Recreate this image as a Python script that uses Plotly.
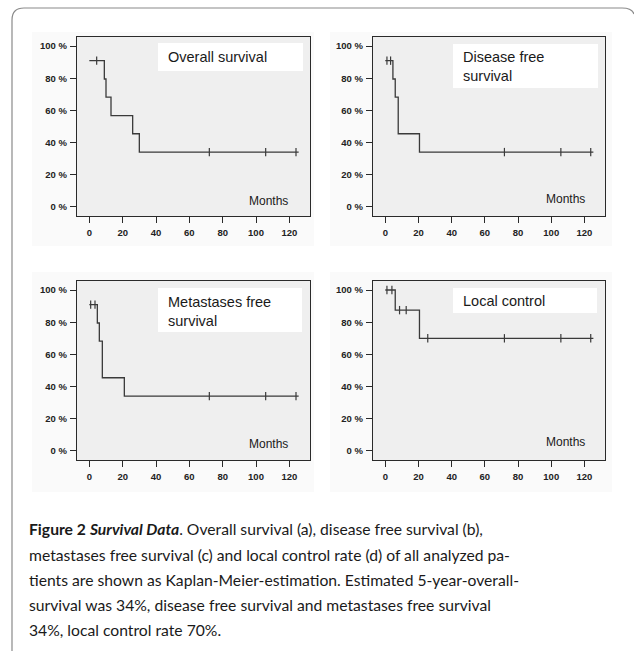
import plotly.graph_objects as go

W, H = 634, 651

# ---------------- data ----------------
months_ticks = [0, 20, 40, 60, 80, 100, 120]
pct_ticks = [0, 20, 40, 60, 80, 100]
pct_labels = ["0 %", "20 %", "40 %", "60 %", "80 %", "100 %"]

# (a) overall survival
os_time = [0, 9, 10, 13, 26, 30, 125.6]
os_surv = [90.9, 79.5, 68.2, 56.8, 45.5, 34.1, 34.1]
os_cens_time = [4.4, 72, 105.8, 124]
os_cens_surv = [90.9, 34.1, 34.1, 34.1]

# (b) disease free survival
dfs_time = [0, 4.6, 6, 7.8, 20.6, 125.4]
dfs_surv = [90.9, 79.5, 68.2, 45.5, 34.1, 34.1]
dfs_cens_time = [1, 3.2, 71.8, 105.8, 123.8]
dfs_cens_surv = [90.9, 90.9, 34.1, 34.1, 34.1]

# (c) metastases free survival
mfs_time = [0, 4.8, 6, 7.8, 21, 125.6]
mfs_surv = [90.9, 79.5, 68.2, 45.5, 34.1, 34.1]
mfs_cens_time = [0.8, 3.4, 72, 105.8, 124]
mfs_cens_surv = [90.9, 90.9, 34.1, 34.1, 34.1]

# (d) local control
lc_time = [0, 6, 20.6, 125.4]
lc_surv = [100, 87.5, 70, 70]
lc_cens_time = [1, 4, 8.6, 12.6, 25.6, 71.8, 105.8, 123.8]
lc_cens_surv = [100, 100, 87.5, 87.5, 70, 70, 70, 70]

panel_titles = ["Overall survival", "Disease free<br>survival",
                "Metastases free<br>survival", "Local control"]

caption_lines = [
    "<b>Figure 2</b> <b><i>Survival Data</i></b>. Overall survival (a), disease free survival (b),",
    "metastases free survival (c) and local control rate (d) of all analyzed pa-",
    "tients are shown as Kaplan-Meier-estimation. Estimated 5-year-overall-",
    "survival was 34%, disease free survival and metastases free survival",
    "34%, local control rate 70%.",
]

# ---------------- layout helpers ----------------
def px(x):
    return x / W

def py(y):
    return 1 - y / H

# plot boxes in pixels: (left, right, top, bottom)
boxes = [(77, 310, 37, 216), (373, 605, 37, 216),
         (77, 310, 281, 460), (373, 605, 281, 460)]
# white label boxes (left, right, top, bottom), text x, text y centre
label_boxes = [(158, 303, 43, 71, 166, 57),
               (453, 598, 44, 88, 461, 66.5),
               (158, 302, 288, 332, 165.5, 311),
               (453, 597, 288, 313, 461, 301)]
months_pos = [(290, 200.5), (587, 199.5), (289.5, 443.5), (586.5, 442)]

series = [
    (os_time, os_surv, os_cens_time, os_cens_surv),
    (dfs_time, dfs_surv, dfs_cens_time, dfs_cens_surv),
    (mfs_time, mfs_surv, mfs_cens_time, mfs_cens_surv),
    (lc_time, lc_surv, lc_cens_time, lc_cens_surv),
]

LINE = "#3a3a3a"
fig = go.Figure()
shapes = []
annotations = []

# faint panel backgrounds (scanned-figure look)
for (l, r, t, b) in [(32, 314, 32, 246), (330, 612, 32, 246),
                     (32, 314, 272, 492), (330, 612, 272, 492)]:
    shapes.append(dict(type="rect", xref="paper", yref="paper", layer="below",
                       x0=px(l), x1=px(r), y0=py(b), y1=py(t),
                       fillcolor="#fafafa", line=dict(width=0)))

for i, ((t, s, ct, cs), (l, r, tp, bt)) in enumerate(zip(series, boxes)):
    n = "" if i == 0 else str(i + 1)
    xa, ya = "x" + n, "y" + n
    fig.add_trace(go.Scatter(x=t, y=s, mode="lines", line_shape="hv",
                             line=dict(color=LINE, width=1.3),
                             xaxis=xa, yaxis=ya, showlegend=False,
                             hoverinfo="skip"))
    fig.add_trace(go.Scatter(x=ct, y=cs, mode="markers",
                             marker=dict(symbol="line-ns", size=6,
                                         line=dict(color=LINE, width=1.2)),
                             xaxis=xa, yaxis=ya, showlegend=False,
                             hoverinfo="skip"))
    axcommon = dict(showline=True, linecolor="#2a2a2a", linewidth=1.3,
                    mirror=True, ticks="outside", ticklen=6, tickwidth=1.2,
                    tickcolor="#2a2a2a", showgrid=False, zeroline=False,
                    tickfont=dict(family="Liberation Sans, Arial", size=9.5,
                                  color="#222", weight="bold"))
    fig.update_layout(**{
        ("xaxis" + n): dict(domain=[px(l), px(r)], range=[-7.4, 132.4],
                            anchor=ya, tickvals=months_ticks, ticklabelstandoff=1,
                            **axcommon),
        ("yaxis" + n): dict(domain=[py(bt), py(tp)], range=[-5.6, 105.6],
                            anchor=xa, tickvals=pct_ticks, ticktext=pct_labels,
                            ticklabelstandoff=1, **axcommon),
    })
    # plot area background
    shapes.append(dict(type="rect", xref="paper", yref="paper", layer="below",
                       x0=px(l), x1=px(r), y0=py(bt), y1=py(tp),
                       fillcolor="#efefef", line=dict(width=0)))
    bl, br, btp, bbt, tx, ty = label_boxes[i]
    shapes.append(dict(type="rect", xref="paper", yref="paper", layer="above",
                       x0=px(bl), x1=px(br), y0=py(bbt), y1=py(btp),
                       fillcolor="white", line=dict(width=0)))
    annotations.append(dict(xref="paper", yref="paper", x=px(tx), y=py(ty),
                            text=panel_titles[i], showarrow=False,
                            xanchor="left", yanchor="middle", align="left",
                            font=dict(family="Liberation Sans, Arial",
                                      size=14.5, color="#1a1a1a")))
    mx, my = months_pos[i]
    annotations.append(dict(xref="paper", yref="paper", x=px(mx), y=py(my),
                            text="Months", showarrow=False,
                            xanchor="right", yanchor="middle",
                            font=dict(family="Liberation Sans, Arial",
                                      size=12, color="#1a1a1a")))

# caption
cap_y = [528.5, 554.5, 579.5, 604.5, 629.5]
for line, yy in zip(caption_lines, cap_y):
    annotations.append(dict(xref="paper", yref="paper", x=px(27), y=py(yy),
                            text=line, showarrow=False, xanchor="left",
                            yanchor="middle", align="left",
                            font=dict(family="Lato, Open Sans", size=15.7,
                                      color="#1a1a1a")))

# outer rounded frame (top, left, top-right corner)
shapes.append(dict(type="path", xref="paper", yref="paper", layer="above",
                   path=(f"M {px(12)},{py(651)} L {px(12)},{py(20)} "
                         f"Q {px(12)},{py(8)} {px(24)},{py(8)} "
                         f"L {px(622)},{py(8)} Q {px(632)},{py(8)} {px(634)},{py(14)}"),
                   line=dict(color="#8a8a8a", width=1.2)))

fig.update_layout(width=W, height=H, margin=dict(l=0, r=0, t=0, b=0),
                  paper_bgcolor="white", plot_bgcolor="rgba(0,0,0,0)",
                  shapes=shapes, annotations=annotations)

fig.write_html("out.html", config={"displayModeBar": False},
               post_script="document.body.style.margin='0';"
                           "document.body.style.overflow='hidden';")
